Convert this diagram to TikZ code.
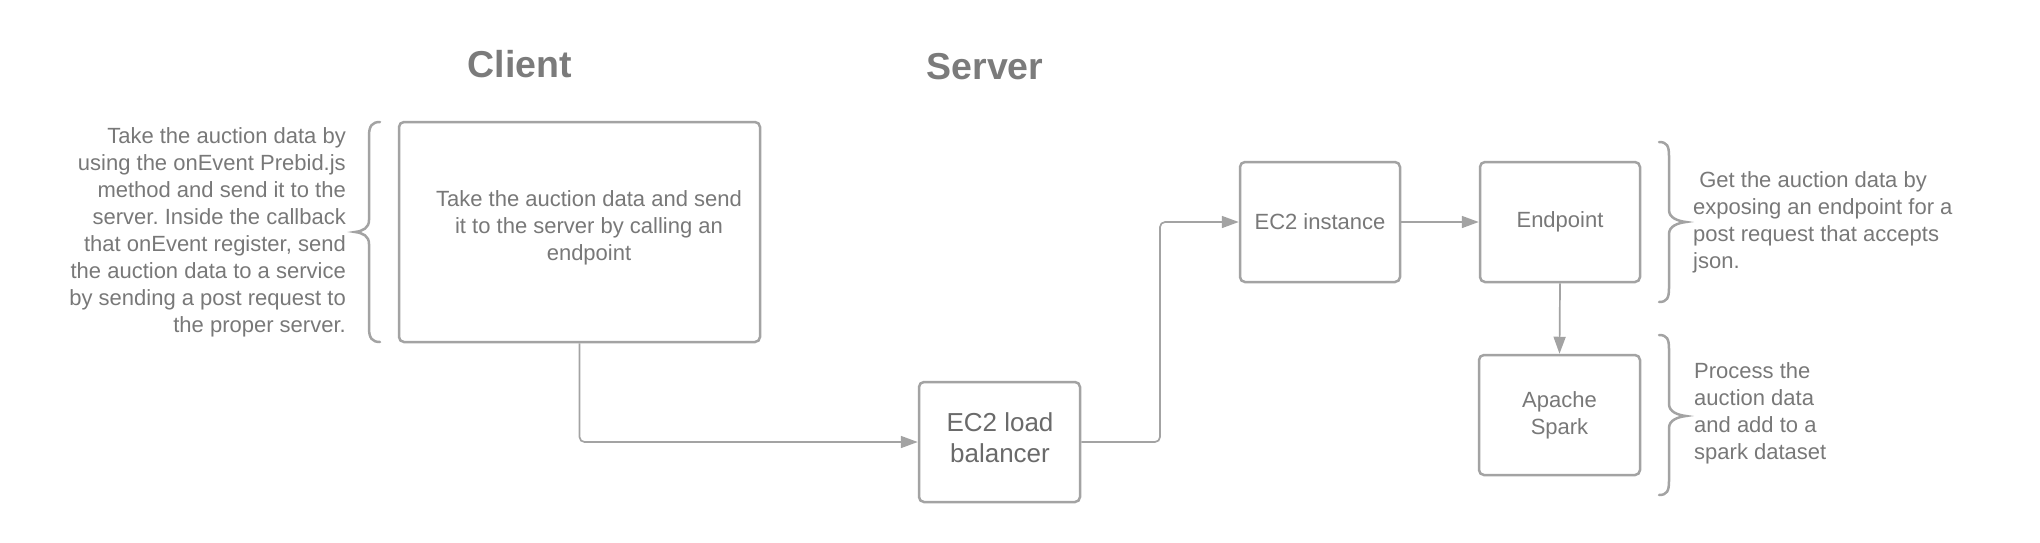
\documentclass[tikz,border=0pt]{standalone}
\usepackage{fontspec}
\setmainfont{Liberation Sans}
\usetikzlibrary{arrows.meta}
\definecolor{linegray}{HTML}{A3A3A3}
\definecolor{txtgray}{HTML}{787878}
\definecolor{darktxt}{HTML}{6A6A6A}
\definecolor{titlegray}{HTML}{7B7B7B}
\frenchspacing
\begin{document}
\begin{tikzpicture}[x=1pt,y=-1pt,
  box/.style={draw=linegray, line width=2.5pt, rounded corners=5pt, fill=white,
    text=txtgray, font=\fontsize{22}{27}\selectfont, align=center, inner sep=0pt},
  body/.style={text=txtgray, font=\fontsize{22}{27}\selectfont, inner sep=0pt},
  title/.style={text=titlegray, font=\fontsize{37.5}{42}\selectfont\bfseries, inner sep=0pt},
  conn/.style={draw=linegray, line width=1.7pt, rounded corners=5pt,
    -{Triangle[length=17pt,width=12pt]}},
  brace/.style={draw=linegray, line width=2.5pt, line cap=round}
]
\useasboundingbox (0,0) rectangle (2040,542);

% titles
\node[title] (tclient) at (520,64) {Client};
\node[title] (tserver) at (985,67) {Server};

% boxes
\node[box, minimum width=361pt, minimum height=220pt] (client) at (579.5,232) {};
\node[body, align=center] (clienttxt) at (589,228)
  {Take the auction data and send\\it to the server by calling an\\endpoint};
\node[box, minimum width=161pt, minimum height=120pt] (lb) at (999.5,442) {};
\node[body, align=center, text=darktxt, font=\fontsize{26}{31}\selectfont] (lbtxt)
  at (1000,437.5) {EC2 load\\balancer};
\node[box, minimum width=160pt, minimum height=120pt] (ec2) at (1320,222) {EC2 instance};
\node[box, minimum width=160pt, minimum height=120pt] (endp) at (1560,222) {Endpoint};
\node[box, minimum width=161pt, minimum height=120pt] (spark) at (1559.5,415) {Apache\\Spark};

% side texts
\node[body, align=right, anchor=east] (ltext) at (346,232)
  {Take the auction data by\\using the onEvent Prebid.js\\method and send it to the\\server. Inside the callback\\that onEvent register, send\\the auction data to a service\\by sending a post request to\\the proper server.};
\node[body, align=left, anchor=west] (rtext1) at (1693,222)
  {\ Get the auction data by\\exposing an endpoint for a\\post request that accepts\\json.};
\node[body, align=left, anchor=west] (rtext2) at (1694,413)
  {Process the\\auction data\\and add to a\\spark dataset};

% braces
\draw[brace] (380,122) .. controls (372,122) and (369,126) .. (369,136) -- (369,220)
  .. controls (369,228) and (363,231) .. (355,232)
  .. controls (363,233) and (369,236) .. (369,244) -- (369,328)
  .. controls (369,338) and (372,342) .. (380,342);
\draw[brace] (1659,142) .. controls (1667,142) and (1669,146) .. (1669,156) -- (1669,210)
  .. controls (1669,218) and (1678,221) .. (1686,222)
  .. controls (1678,223) and (1669,226) .. (1669,234) -- (1669,288)
  .. controls (1669,298) and (1667,302) .. (1659,302);
\draw[brace] (1659,335) .. controls (1667,335) and (1669,339) .. (1669,349) -- (1669,404)
  .. controls (1669,412) and (1678,415) .. (1686,416)
  .. controls (1678,417) and (1669,420) .. (1669,428) -- (1669,481)
  .. controls (1669,491) and (1667,495) .. (1659,495);

% connectors
\coordinate (mid) at (1160,300);
\draw[conn] (client.south) |- (lb.west);
\draw[conn] (lb.east) -- (lb.east -| mid) -- (mid |- ec2.west) -- (ec2.west);
\draw[conn] (ec2.east) -- (endp.west);
\draw[conn] (endp.south) -- (spark.north);
\end{tikzpicture}
\end{document}
